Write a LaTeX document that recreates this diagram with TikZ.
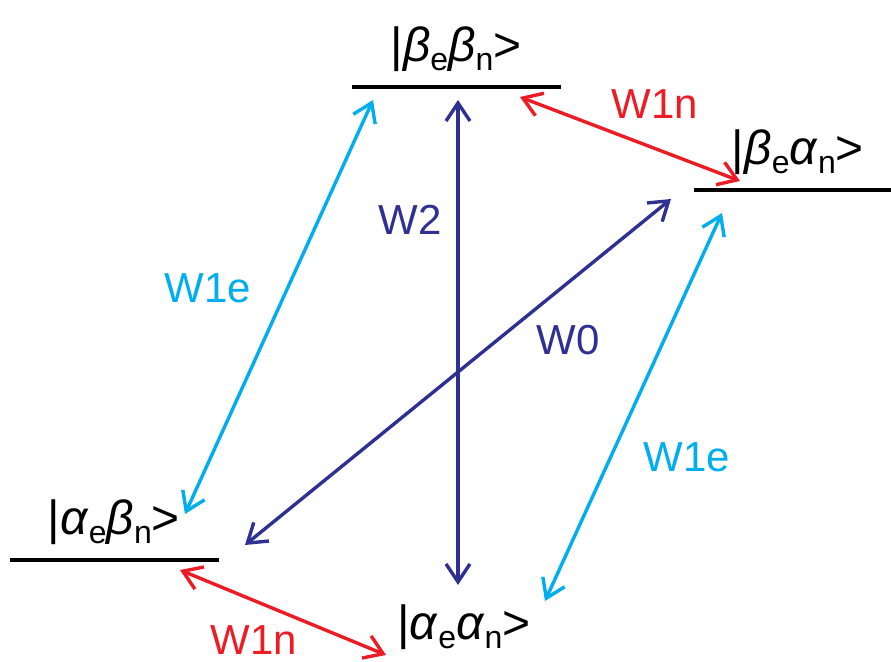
\documentclass[tikz,border=0pt]{standalone}
\usepackage{fontspec}
\setmainfont{Liberation Sans}
\usepackage{xcolor}
\usetikzlibrary{arrows.meta}
\definecolor{wred}{RGB}{237,28,36}
\definecolor{wcyan}{RGB}{0,174,239}
\definecolor{wblue}{RGB}{46,49,146}
\newcommand{\sublbl}[1]{\raisebox{-4.5pt}{\fontsize{16}{16}\selectfont #1}}
\newcommand{\statelbl}[2]{{\fontsize{24}{28}\selectfont|\textit{#1}\sublbl{e}\textit{#2}\sublbl{n}>}}
\tikzset{
  level/.style={line width=2pt, black},
  trans/.style={line width=1.7pt, {Straight Barb[length=9pt,width=12pt]}-{Straight Barb[length=9pt,width=12pt]}},
  wlbl/.style={inner sep=0pt}
}
\begin{document}
\begin{tikzpicture}[x=0.5pt, y=-0.5pt, font=\fontsize{21}{25}\selectfont]
  \useasboundingbox (0,0) rectangle (891,662);
  % energy levels
  \draw[level] (352,87) -- (561,87);
  \draw[level] (694,190) -- (891,190);
  \draw[level] (10,560) -- (219,560);
  \node[anchor=base, inner sep=0pt] (bb) at (456,62) {\statelbl{β}{β}};
  \node[anchor=base, inner sep=0pt] (ba) at (798,165) {\statelbl{β}{α}};
  \node[anchor=base, inner sep=0pt] (ab) at (114,535) {\statelbl{α}{β}};
  \node[anchor=base, inner sep=0pt] (aa) at (464,640) {\statelbl{α}{α}};
  % arrow ends
  \coordinate (bb-l) at (373,100);
  \coordinate (bb-m) at (458,100);
  \coordinate (bb-r) at (520,97);
  \coordinate (ba-l) at (740,181);
  \coordinate (ba-b) at (671,199);
  \coordinate (ba-d) at (722,213);
  \coordinate (ab-t) at (185,514);
  \coordinate (ab-r) at (245,545);
  \coordinate (ab-b) at (180,570);
  \coordinate (aa-t) at (458,585);
  \coordinate (aa-r) at (545,601);
  \coordinate (aa-l) at (386,655);
  % transitions
  \draw[trans, wcyan] (bb-l) -- (ab-t);
  \draw[trans, wcyan] (ba-d) -- (aa-r);
  \draw[trans, wred] (bb-r) -- (ba-l);
  \draw[trans, wred] (ab-b) -- (aa-l);
  \draw[trans, wblue] (bb-m) -- (aa-t);
  \draw[trans, wblue] (ba-b) -- (ab-r);
  \node[wlbl, wcyan] (w1e-l) at (208,288) {W1e};
  \node[wlbl, wcyan] (w1e-r) at (687,457) {W1e};
  \node[wlbl, wred] (w1n-t) at (655,104) {W1n};
  \node[wlbl, wred] (w1n-b) at (254,640) {W1n};
  \node[wlbl, wblue] (w2) at (410,220) {W2};
  \node[wlbl, wblue] (w0) at (568,340) {W0};
\end{tikzpicture}
\end{document}
